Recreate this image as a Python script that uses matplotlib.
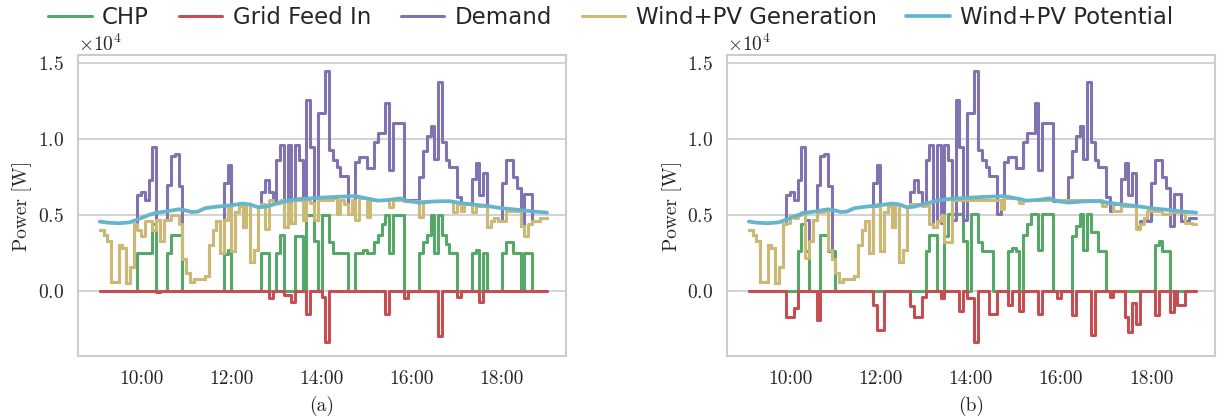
import numpy as np
import matplotlib.pyplot as plt
import seaborn as sns

sns.set_theme(style='whitegrid')
plt.rcParams['font.family'] = 'serif'
plt.rcParams['font.serif'] = ['cmr10']
plt.rcParams['mathtext.fontset'] = 'cm'
plt.rcParams['axes.formatter.use_mathtext'] = True
plt.rcParams['axes.unicode_minus'] = False


def hrs(ts):
    return np.array([int(s[:-3]) + int(s[-2:]) / 60 for s in ts])


# values in kW, step changes (time of change, new value)
demand_t = ['9:05', '9:10', '9:15', '9:20', '9:30', '9:35', '9:40', '9:45', '9:50', '9:55',
            '10:00', '10:05', '10:10', '10:15', '10:20', '10:25', '10:30', '10:35', '10:40', '10:45',
            '10:50', '10:55', '11:00', '11:05', '11:10', '11:25', '11:30', '11:35', '11:40', '11:45',
            '11:50', '11:55', '12:00', '12:05', '12:10', '12:15', '12:20', '12:25', '12:30', '12:35',
            '12:40', '12:45', '12:50', '12:55', '13:00', '13:05', '13:10', '13:15', '13:20', '13:25',
            '13:30', '13:35', '13:40', '13:45', '13:50', '13:55', '14:05', '14:10', '14:15', '14:20',
            '14:25', '14:35', '14:40', '14:45', '14:50', '15:00', '15:10', '15:15', '15:25', '15:30',
            '15:35', '15:50', '15:55', '16:10', '16:15', '16:20', '16:25', '16:30', '16:35', '16:40',
            '16:45', '16:50', '17:00', '17:05', '17:10', '17:20', '17:25', '17:30', '17:35', '17:40',
            '17:45', '17:50', '17:55', '18:00', '18:05', '18:15', '18:20', '18:25', '18:30', '18:40',
            '18:50', '19:00']
demand_v = [4.0, 3.7, 3.3, 0.6, 3.0, 2.8, 0.5, 1.6, 4.4, 6.3,
            6.5, 6.0, 7.3, 9.5, 4.7, 3.3, 4.7, 7.0, 8.9, 9.0,
            6.9, 2.1, 1.2, 0.6, 0.8, 1.0, 3.0, 4.0, 4.6, 2.5,
            7.1, 8.3, 2.6, 5.2, 5.6, 4.2, 5.7, 1.9, 2.7, 5.5,
            6.5, 7.3, 6.5, 5.8, 8.6, 9.6, 4.2, 9.6, 4.5, 9.6,
            8.6, 4.7, 12.6, 9.5, 4.7, 11.7, 14.5, 9.3, 8.6, 8.2,
            7.6, 5.1, 6.0, 8.5, 8.8, 8.1, 9.8, 10.4, 12.4, 8.0,
            11.1, 5.9, 6.0, 7.5, 9.2, 10.2, 10.9, 8.7, 13.8, 9.8,
            8.6, 8.2, 6.2, 5.3, 5.7, 7.4, 8.4, 6.3, 7.8, 4.2,
            4.6, 4.8, 4.6, 7.1, 8.6, 7.5, 6.8, 4.3, 6.4, 4.6,
            4.8, 4.8]

potential_t = ['9:05', '9:15', '9:30', '9:45', '9:55', '10:10', '10:20', '10:35', '10:50', '11:00',
               '11:07', '11:15', '11:25', '11:40', '12:00', '12:15', '12:25', '12:35', '12:45', '13:00',
               '13:15', '13:30', '13:45', '14:00', '14:20', '14:45', '15:00', '15:15', '15:30', '15:45',
               '15:55', '16:10', '16:30', '16:50', '17:05', '17:20', '17:40', '18:00', '18:15', '18:30',
               '18:45', '19:00']
potential_v = [4.57, 4.50, 4.46, 4.52, 4.70, 5.00, 5.15, 5.25, 5.38, 5.30,
               5.20, 5.22, 5.45, 5.55, 5.65, 5.76, 5.70, 5.52, 5.55, 5.75,
               5.95, 6.05, 6.10, 6.15, 6.20, 6.25, 6.10, 5.95, 6.00, 6.10,
               5.92, 5.82, 5.90, 5.92, 5.80, 5.70, 5.60, 5.45, 5.38, 5.30,
               5.22, 5.16]

# (a)
chp_a_t = ['9:05', '9:55', '10:15', '10:20', '10:35', '10:40', '10:55', '11:50', '11:55', '12:00',
           '12:40', '12:50', '13:00', '13:05', '13:10', '13:25', '13:35', '13:40', '13:50', '13:55',
           '14:00', '14:10', '14:15', '14:35', '14:45', '14:55', '15:00', '15:10', '15:15', '15:20',
           '15:25', '15:30', '15:35', '15:50', '16:10', '16:15', '16:20', '16:25', '16:30', '16:35',
           '16:40', '16:45', '16:50', '17:00', '17:20', '17:25', '17:30', '17:35', '17:40', '18:00',
           '18:05', '18:15', '18:25', '18:30', '18:40', '19:00']
chp_a_v = [0, 2.5, 4.4, 0, 2.5, 3.7, 0, 2.4, 2.7, 0,
           2.5, 0, 2.5, 3.7, 0, 3.6, 0, 5.0, 3.3, 0,
           5.0, 3.2, 2.5, 0, 2.5, 2.7, 2.5, 3.2, 3.7, 4.4,
           5.0, 2.5, 5.0, 0, 2.5, 3.2, 3.7, 5.0, 2.5, 5.0,
           3.7, 3.1, 2.5, 0, 2.5, 2.7, 0, 2.5, 0, 2.5,
           3.2, 2.5, 0, 2.5, 0, 0]

grid_a_t = ['9:05', '10:20', '10:25', '12:50', '12:55', '13:10', '13:20', '13:25', '13:40', '13:45',
            '14:00', '14:05', '14:10', '15:25', '15:30', '15:50', '15:55', '16:35', '16:40', '17:00',
            '17:05', '17:30', '17:35', '19:00']
grid_a_v = [0, -0.1, 0, -0.5, 0, -0.3, -0.7, 0, -1.5, 0,
            -0.4, -3.4, 0, -1.5, 0, -0.5, 0, -3.0, 0, -0.4,
            0, -0.7, 0, 0]

gen_a_t = ['9:05', '9:10', '9:15', '9:20', '9:30', '9:35', '9:40', '9:45', '9:50', '9:55',
           '10:00', '10:05', '10:15', '10:20', '10:25', '10:30', '10:40', '10:50', '10:55', '11:00',
           '11:05', '11:10', '11:25', '11:30', '11:35', '11:40', '11:45', '11:50', '11:55', '12:00',
           '12:05', '12:10', '12:15', '12:20', '12:25', '12:30', '12:35', '12:40', '12:45', '12:50',
           '12:55', '13:00', '13:05', '13:10', '13:15', '13:20', '13:25', '13:35', '13:40', '13:45',
           '13:50', '13:55', '14:15', '14:20', '14:25', '14:30', '14:35', '14:40', '14:45', '14:50',
           '15:00', '15:05', '15:30', '15:35', '15:50', '16:10', '16:15', '16:55', '17:00', '17:05',
           '17:10', '17:20', '17:25', '17:40', '17:45', '17:50', '17:55', '18:05', '18:25', '18:30',
           '18:35', '18:40', '18:50', '19:00']
gen_a_v = [4.0, 3.7, 3.3, 0.6, 3.0, 2.8, 0.5, 1.6, 4.4, 4.0,
           3.6, 4.6, 4.0, 4.7, 3.3, 4.7, 5.0, 4.4, 2.1, 1.2,
           0.6, 0.8, 1.0, 3.0, 4.0, 4.6, 2.5, 4.7, 5.5, 2.6,
           5.2, 5.6, 4.2, 5.7, 1.9, 2.7, 5.5, 5.7, 4.1, 6.0,
           5.8, 5.8, 6.0, 4.2, 5.8, 4.5, 6.0, 4.7, 6.0, 5.8,
           4.7, 6.0, 6.1, 5.1, 6.0, 5.7, 5.1, 6.0, 4.7, 6.1,
           4.9, 6.0, 5.5, 6.0, 5.9, 4.9, 5.9, 5.2, 5.7, 5.3,
           5.7, 5.2, 5.6, 4.2, 4.6, 4.8, 4.6, 5.3, 4.3, 3.6,
           4.4, 4.6, 4.8, 4.8]

# (b)
chp_b_t = ['9:05', '10:10', '10:15', '10:20', '10:25', '10:40', '10:50', '11:00', '13:00', '13:05',
           '13:15', '13:25', '13:30', '13:50', '13:55', '14:00', '14:10', '14:15', '14:30', '14:50',
           '14:55', '15:00', '15:05', '15:10', '15:15', '15:20', '15:30', '15:35', '15:50', '16:15',
           '16:20', '16:25', '16:30', '16:35', '16:40', '16:50', '17:00', '18:05', '18:10', '18:15',
           '18:25', '19:00']
chp_b_v = [0, 2.6, 4.4, 2.6, 0, 3.7, 2.6, 0, 2.6, 3.7,
           0, 3.6, 5.1, 3.3, 0, 5.1, 3.2, 2.6, 0, 2.6,
           2.8, 2.6, 0, 3.7, 4.4, 5.1, 2.7, 5.1, 0, 3.6,
           4.3, 5.1, 2.7, 5.1, 3.9, 2.6, 0, 3.0, 3.3, 2.6,
           0, 0]

grid_b_t = ['9:05', '9:55', '10:05', '10:10', '10:35', '10:40', '11:50', '11:55', '12:05', '12:40',
            '12:45', '12:55', '13:00', '13:20', '13:25', '13:45', '13:50', '13:55', '14:05', '14:10',
            '14:25', '14:35', '14:50', '14:55', '15:05', '15:10', '15:30', '15:35', '15:55', '16:00',
            '16:15', '16:20', '16:40', '16:45', '17:05', '17:10', '17:25', '17:30', '17:35', '17:40',
            '17:45', '18:05', '18:10', '18:25', '18:30', '18:35', '18:45', '19:00']
grid_b_v = [0, -1.7, -1.1, 0, -1.9, 0, -0.9, -2.6, 0, -1.0,
            -1.7, -0.4, 0, -0.5, 0, -1.3, 0, -0.5, -3.4, 0,
            -1.5, 0, -0.9, 0, -1.3, 0, -1.5, 0, -0.5, 0,
            -1.6, 0, -2.9, 0, -0.4, 0, -1.7, -2.7, -0.8, -2.2,
            0, -1.6, 0, -1.4, 0, -0.9, 0, 0]

gen_b_t = ['9:05', '9:10', '9:15', '9:20', '9:30', '9:35', '9:40', '9:45', '9:50', '9:55',
           '10:00', '10:05', '10:10', '10:15', '10:20', '10:25', '10:30', '10:35', '10:45', '10:50',
           '10:55', '11:00', '11:05', '11:10', '11:25', '11:30', '11:35', '11:40', '11:45', '11:50',
           '11:55', '12:00', '12:05', '12:10', '12:15', '12:20', '12:25', '12:30', '12:35', '12:40',
           '12:55', '13:00', '13:05', '13:10', '13:15', '13:20', '13:25', '13:35', '14:40', '14:45',
           '15:05', '15:10', '16:55', '17:00', '17:10', '17:20', '17:40', '17:45', '17:50', '17:55',
           '18:15', '18:25', '18:45', '18:55', '19:00']
gen_b_v = [4.0, 3.7, 3.3, 0.6, 3.0, 2.8, 0.5, 1.6, 4.4, 4.5,
           5.0, 4.8, 5.0, 5.2, 2.2, 3.3, 4.7, 5.2, 5.3, 2.7,
           2.1, 1.2, 0.6, 0.8, 1.0, 3.0, 4.0, 4.6, 2.5, 5.6,
           5.7, 2.6, 5.2, 5.6, 4.2, 5.7, 1.9, 2.7, 5.5, 5.7,
           5.6, 5.8, 4.4, 4.2, 4.6, 5.0, 3.2, 6.0, 5.4, 6.1,
           5.8, 6.0, 5.6, 5.8, 5.3, 5.6, 4.1, 4.4, 4.8, 5.3,
           5.1, 5.2, 4.5, 4.4, 4.4]

xticks = [10, 12, 14, 16, 18]
xticklabels = ['10:00', '12:00', '14:00', '16:00', '18:00']

colors = {'CHP': '#55A868', 'Grid Feed In': '#C44E52', 'Demand': '#8172B2',
          'Wind+PV Generation': '#CCB974', 'Wind+PV Potential': '#64B5CD'}

fig = plt.figure(figsize=(12.24, 4.17), dpi=100)
ax_a = fig.add_axes([0.0637, 0.146, 0.3987, 0.722])
ax_b = fig.add_axes([0.594, 0.146, 0.3987, 0.722])

panels = [(ax_a, '(a)', chp_a_t, chp_a_v, grid_a_t, grid_a_v, gen_a_t, gen_a_v),
          (ax_b, '(b)', chp_b_t, chp_b_v, grid_b_t, grid_b_v, gen_b_t, gen_b_v)]

for ax, lab, ct, cv, gt, gv, wt, wv in panels:
    ax.step(hrs(ct), np.array(cv) * 1000, where='post', color=colors['CHP'], lw=2.2, label='CHP')
    ax.step(hrs(gt), np.array(gv) * 1000, where='post', color=colors['Grid Feed In'], lw=2.2, label='Grid Feed In')
    ax.step(hrs(demand_t), np.array(demand_v) * 1000, where='post', color=colors['Demand'], lw=2.2, label='Demand')
    ax.step(hrs(wt), np.array(wv) * 1000, where='post', color=colors['Wind+PV Generation'], lw=2.2,
            label='Wind+PV Generation')
    ax.plot(hrs(potential_t), np.array(potential_v) * 1000, color=colors['Wind+PV Potential'], lw=2.7,
            label='Wind+PV Potential')
    ax.set_xlim(8.6, 19.42)
    ax.set_ylim(-4300, 15550)
    ax.set_yticks([0, 5000, 10000, 15000])
    ax.ticklabel_format(axis='y', style='sci', scilimits=(0, 0))
    ax.set_xticks(xticks)
    ax.set_xticklabels(xticklabels)
    ax.grid(axis='x', visible=False)
    ax.grid(axis='y', color='#d0d0d0', lw=1.3)
    ax.tick_params(labelsize=14, pad=4)
    ax.yaxis.get_offset_text().set_fontsize(14)
    ax.set_ylabel('Power [W]', fontsize=14, labelpad=4)
    ax.set_xlabel(lab, fontsize=14, labelpad=6)
    for s in ax.spines.values():
        s.set_color('#cccccc')
        s.set_linewidth(1.5)

handles, labels = ax_a.get_legend_handles_labels()
fig.legend(handles, labels, loc='upper center', ncol=5, frameon=False, bbox_to_anchor=(0.499, 1.035),
           prop={'family': 'DejaVu Sans', 'size': 16.5}, handlelength=1.9, columnspacing=1.3, handletextpad=0.45)

fig.savefig('out.png', dpi=100)
